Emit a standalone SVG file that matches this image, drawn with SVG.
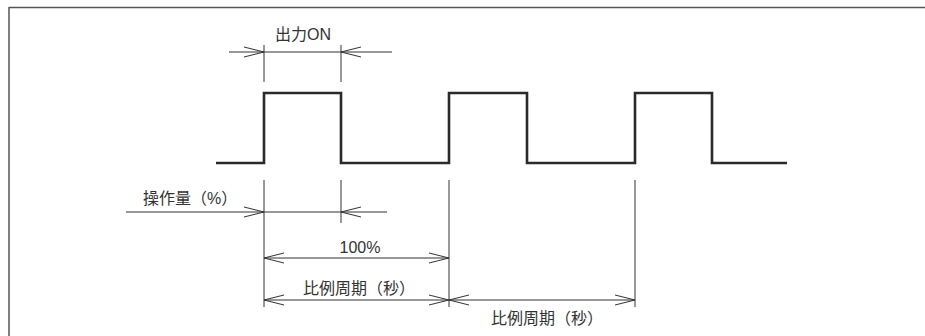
<svg xmlns="http://www.w3.org/2000/svg" width="925" height="336" viewBox="0 0 925 336">
<style>
.frame{stroke:#555;stroke-width:1.5;fill:none}
.wave{stroke:#2a2a2a;stroke-width:2.6;fill:none;stroke-linejoin:miter}
.dim{stroke:#333;stroke-width:1;fill:none}
.lbl{font-family:"Liberation Sans","Noto Sans CJK JP",sans-serif;font-size:16px;fill:#333}
</style>
<defs>
<marker id="arr" viewBox="0 0 20 12" refX="20" refY="6" markerWidth="20" markerHeight="12" markerUnits="userSpaceOnUse" orient="auto-start-reverse">
<path d="M0,1 L20,6 L0,11" fill="none" stroke="#333" stroke-width="1"/>
</marker>
</defs>
<rect width="925" height="336" fill="#fff"/>
<g id="frame">
<line class="frame" x1="9" y1="7.5" x2="925" y2="7.5" stroke="#888"/>
<line class="frame" x1="9" y1="7" x2="9" y2="336" stroke="#333"/>
</g>
<g id="waveform">
<path class="wave" d="M216,163 H264 V93 H341 V163 H449 V93 H527 V163 H635 V93 H712 V163 H787"/>
</g>
<g id="connectors">
<line class="dim" x1="264" y1="45" x2="264" y2="82"/>
<line class="dim" x1="341" y1="45" x2="341" y2="82"/>
<line class="dim" x1="229" y1="52" x2="264" y2="52" marker-end="url(#arr)"/>
<line class="dim" x1="264" y1="52" x2="341" y2="52"/>
<line class="dim" x1="392" y1="52" x2="341" y2="52" marker-end="url(#arr)"/>
<line class="dim" x1="264" y1="180" x2="264" y2="307"/>
<line class="dim" x1="341" y1="180" x2="341" y2="223"/>
<line class="dim" x1="449" y1="180" x2="449" y2="307"/>
<line class="dim" x1="635" y1="180" x2="635" y2="307"/>
<line class="dim" x1="126" y1="212" x2="264" y2="212" marker-end="url(#arr)"/>
<line class="dim" x1="264" y1="212" x2="341" y2="212"/>
<line class="dim" x1="387" y1="212" x2="341" y2="212" marker-end="url(#arr)"/>
<line class="dim" x1="264" y1="258" x2="449" y2="258" marker-start="url(#arr)" marker-end="url(#arr)"/>
<line class="dim" x1="264" y1="300" x2="449" y2="300" marker-start="url(#arr)" marker-end="url(#arr)"/>
<line class="dim" x1="449" y1="300" x2="635" y2="300" marker-start="url(#arr)" marker-end="url(#arr)"/>
</g>
<g id="labels">
<text class="lbl" x="303" y="40" text-anchor="middle" font-size="17">出力ON</text>
<text class="lbl" x="143" y="204">操作量（%）</text>
<text class="lbl" x="360" y="253" text-anchor="middle" font-size="18">100%</text>
<text class="lbl" x="359" y="294" text-anchor="middle">比例周期（秒）</text>
<text class="lbl" x="547" y="324" text-anchor="middle">比例周期（秒）</text>
</g>
</svg>
